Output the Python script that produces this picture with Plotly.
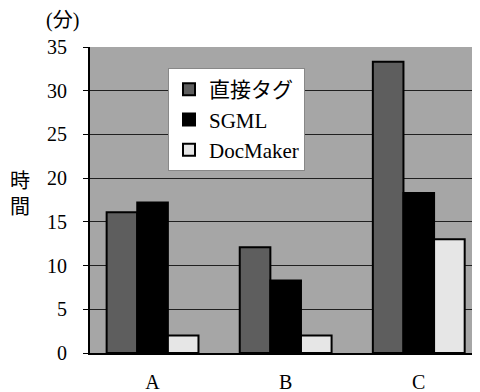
import plotly.graph_objects as go

categories = ["A", "B", "C"]
series_names = ["直接タグ", "SGML", "DocMaker"]
direct_tag = [16.1, 12.1, 33.3]
sgml = [17.2, 8.3, 18.3]
docmaker = [2.0, 2.0, 13.0]
y_ticks = [0, 5, 10, 15, 20, 25, 30, 35]

FONT = "'Liberation Serif', 'Noto Sans CJK JP', serif"
colors = ["#5e5e5e", "#000000", "#e6e6e6"]

# page has an 8px body margin: figure drawn at (8, 8)
OFF = 8
W, H = 480 - OFF, 392 - OFF
L, T, B, R = 90 - OFF, 47 - OFF, 392 - 353, 0

fig = go.Figure()
for name, vals, c in zip(series_names, [direct_tag, sgml, docmaker], colors):
    fig.add_trace(go.Bar(
        x=categories, y=vals, name=name,
        marker=dict(color=c, line=dict(color="#000000", width=2)),
    ))

pw, ph = W - L - R, H - T - B


def px2paper(px, py):
    return (px - OFF - L) / pw, (H - B - (py - OFF)) / ph


lx, ly = px2paper(168, 68)
fig.update_layout(
    width=W, height=H,
    margin=dict(l=L, r=R, t=T, b=B),
    paper_bgcolor="white",
    plot_bgcolor="#a6a6a6",
    barmode="group",
    bargap=0.31,
    bargroupgap=0,
    font=dict(family=FONT, size=20, color="#000000"),
    showlegend=True,
    legend=dict(
        x=lx, y=ly, xanchor="left", yanchor="top",
        bgcolor="white", bordercolor="#888888", borderwidth=1,
        font=dict(family=FONT, size=21),
        tracegroupgap=2,
    ),
    xaxis=dict(
        range=[-0.47, 2.46],
        showgrid=False,
        showline=True, linecolor="#000000", linewidth=2,
        ticks="", ticklabelstandoff=10,
        tickfont=dict(family=FONT, size=20),
    ),
    yaxis=dict(
        range=[0, 35],
        tickvals=y_ticks,
        showgrid=True, gridcolor="#202020", gridwidth=1,
        showline=True, linecolor="#000000", linewidth=2,
        ticks="outside", ticklen=5, tickcolor="#000000",
        ticklabelstandoff=12,
        tickfont=dict(family=FONT, size=20),
        zeroline=False,
    ),
)

ax, ay = px2paper(62, 20)
fig.add_annotation(text="(分)", x=ax, y=ay, xref="paper", yref="paper",
                   showarrow=False, xanchor="center", yanchor="middle",
                   font=dict(family=FONT, size=20))
ax, ay = px2paper(20, 194)
fig.add_annotation(text="時<br>間", x=ax, y=ay, xref="paper", yref="paper",
                   showarrow=False, xanchor="center", yanchor="middle",
                   font=dict(family=FONT, size=20))

fig.write_html("out.html")
